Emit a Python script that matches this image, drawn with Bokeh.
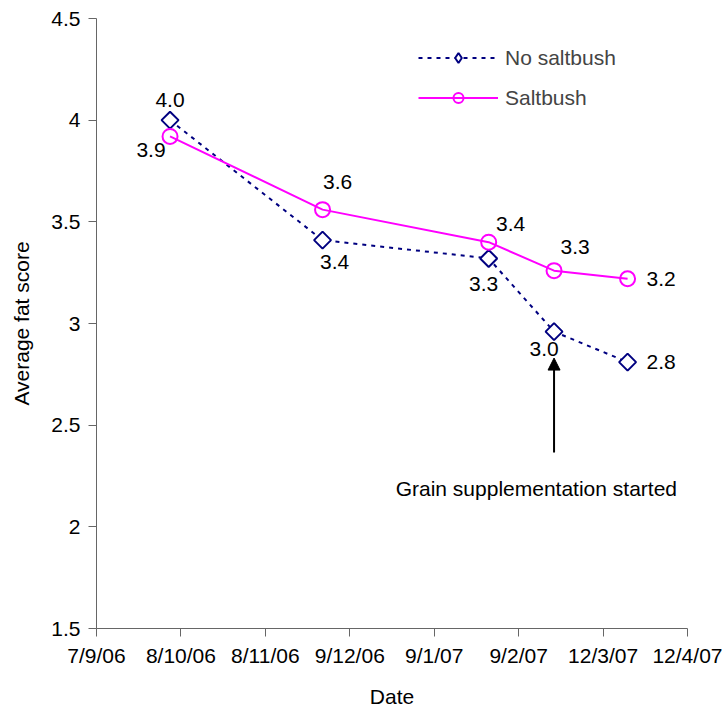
import pandas as pd
from bokeh.plotting import figure
from bokeh.models import (ColumnDataSource, Legend, LegendItem, FixedTicker,
                          Arrow, NormalHead, Label)
from bokeh.core.properties import value
from bokeh.embed import file_html
from bokeh.resources import INLINE

# ---- data ----
origin = "2006-09-07"
tick_dates = ["2006-09-07", "2006-10-08", "2006-11-08", "2006-12-09",
              "2007-01-09", "2007-02-09", "2007-03-12", "2007-04-12"]
tick_labels = ["7/9/06", "8/10/06", "8/11/06", "9/12/06",
               "9/1/07", "9/2/07", "12/3/07", "12/4/07"]
sample_dates = ["2006-10-04", "2006-11-29", "2007-01-29", "2007-02-22", "2007-03-21"]
no_saltbush = [4.00, 3.41, 3.32, 2.96, 2.81]
saltbush = [3.92, 3.56, 3.40, 3.26, 3.22]
y_ticks = [1.5, 2, 2.5, 3, 3.5, 4, 4.5]
y_tick_labels = ["1.5", "2", "2.5", "3", "3.5", "4", "4.5"]
grain_start = "2007-02-22"
annotation = "Grain supplementation started"

FONT = "Liberation Sans"
FS = "21px"


def days(d):
    return (pd.Timestamp(d) - pd.Timestamp(origin)).days


tick_x = [days(d) for d in tick_dates]
xs = [days(d) for d in sample_dates]

# label offsets (pixels)
ns_dx = [0, 12, -5, -10, 19]
ns_dy = [-20, 22, 26, 17, 0]
ns_align = ["center", "center", "center", "center", "left"]
sb_dx = [-19, 15, 22, 21, 19]
sb_dy = [14, -28, -18, -24, 0]
sb_align = ["center", "center", "center", "center", "left"]

ns_src = ColumnDataSource(dict(x=xs, y=no_saltbush,
                               t=[f"{v:.1f}" for v in no_saltbush],
                               dx=ns_dx, dy=ns_dy, al=ns_align))
sb_src = ColumnDataSource(dict(x=xs, y=saltbush,
                               t=[f"{v:.1f}" for v in saltbush],
                               dx=sb_dx, dy=sb_dy, al=sb_align))

p = figure(width=722, height=710, output_backend="svg", toolbar_location=None,
           x_range=(tick_x[0], tick_x[-1]), y_range=(1.5, 4.5),
           min_border_left=96, min_border_right=35, min_border_top=18,
           min_border_bottom=82)
p.outline_line_color = None
p.grid.visible = False

NAVY = "#000080"
MAG = "#FF00FF"

l1 = p.line("x", "y", source=ns_src, line_color=NAVY, line_width=2, line_dash="4 5")
s1 = p.scatter("x", "y", source=ns_src, marker="square", size=12,
               angle=45, angle_units="deg",
               fill_color="white", line_color=NAVY, line_width=2)
# legend-only diamond marker (legend glyphs ignore marker rotation); NaN = not drawn in plot
s1_leg = p.scatter(x=[float("nan")], y=[float("nan")], marker="diamond",
                   fill_color="white", line_color=NAVY, line_width=2)
l2 = p.line("x", "y", source=sb_src, line_color=MAG, line_width=2)
s2 = p.scatter("x", "y", source=sb_src, marker="circle", size=15,
               fill_color="white", fill_alpha=0, line_color=MAG, line_width=2)

for src in (ns_src, sb_src):
    p.text("x", "y", text="t", source=src, x_offset="dx", y_offset="dy",
           text_align="al", text_baseline="middle",
           text_font=value(FONT), text_font_size=FS, text_color="black")

# arrow annotation
gx = days(grain_start)
p.add_layout(Arrow(end=NormalHead(size=12, fill_color="black", line_color="black"),
                   x_start=gx, y_start=2.365, x_end=gx, y_end=2.83,
                   line_color="black", line_width=2))
p.add_layout(Label(x=gx - 6.5, y=2.19, text=annotation, text_align="center",
                   text_baseline="middle", text_font=FONT, text_font_size=FS,
                   text_color="black"))

# axes
for ax in (p.xaxis[0], p.yaxis[0]):
    ax.axis_line_color = "#666666"
    ax.major_tick_line_color = "#666666"
    ax.major_tick_out = 8
    ax.major_tick_in = 0
    ax.minor_tick_line_color = None
    ax.major_label_text_font = FONT
    ax.major_label_text_font_size = FS
    ax.major_label_text_color = "black"
    ax.axis_label_text_font = FONT
    ax.axis_label_text_font_size = FS
    ax.axis_label_text_font_style = "normal"
    ax.axis_label_text_color = "black"

p.xaxis.ticker = FixedTicker(ticks=tick_x)
p.xaxis.major_label_overrides = {t: l for t, l in zip(tick_x, tick_labels)}
p.xaxis.axis_label = "Date"
p.xaxis.major_label_standoff = 7
p.xaxis.axis_label_standoff = 15

p.yaxis.ticker = FixedTicker(ticks=y_ticks)
p.yaxis.major_label_overrides = {t: l for t, l in zip(y_ticks, y_tick_labels)}
p.yaxis.axis_label = "Average fat score"
p.yaxis.major_label_standoff = 8
p.yaxis.axis_label_standoff = 15

legend = Legend(items=[LegendItem(label="No saltbush", renderers=[l1, s1_leg]),
                       LegendItem(label="Saltbush", renderers=[l2, s2])],
                location=(322, 518), border_line_color=None,
                background_fill_alpha=0, padding=0, margin=0,
                glyph_width=80, glyph_height=25, label_height=25, spacing=15,
                label_standoff=7, label_text_font=FONT,
                label_text_font_size=FS)
p.add_layout(legend)

open("out.html", "w").write(file_html(p, INLINE))
